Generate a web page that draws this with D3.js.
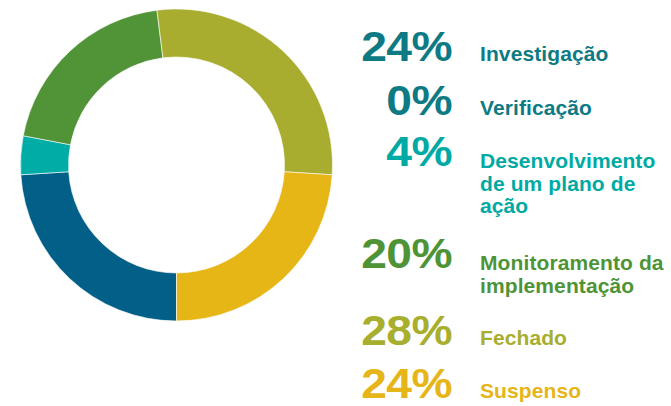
<!doctype html>
<html lang="pt">
<head>
<meta charset="utf-8">
<title>Status</title>
<script src="https://d3js.org/d3.v7.min.js"></script>
<style>
  body { margin: 0; background: #fff; }
  text { font-family: "Liberation Sans", Arial, sans-serif; font-weight: bold; }
</style>
</head>
<body>
<div id="main"></div>
<script>
 // data
 const categories = ['Investigação', 'Verificação', 'Desenvolvimento de um plano de ação',
                     'Monitoramento da implementação', 'Fechado', 'Suspenso']
 const values = [24, 0, 4, 20, 28, 24]
 const labelLines = [['Investigação'], ['Verificação'], ['Desenvolvimento', 'de um plano de', 'ação'],
                     ['Monitoramento da', 'implementação'], ['Fechado'], ['Suspenso']]
 const sliceColours = ['#025f87', '#0e7a84', '#00aca6', '#519437', '#a8ad2f', '#e6b516']
 const textColours  = ['#0e7a84', '#0e7a84', '#00aaa4', '#4e9437', '#a8ae2d', '#e6b518']

 const width = 671, height = 406
 const svg = d3.select('#main').append('svg')
               .attr('width', width).attr('height', height)

 const data = categories.map((c, i) => ({ name: c, value: values[i], i }))

 const pie = d3.pie().sort(null).value(d => d.value)
               .startAngle(Math.PI).endAngle(3 * Math.PI)
 const arc = d3.arc().innerRadius(108).outerRadius(156)

 const donut = svg.append('g').attr('transform', 'translate(176.5,165)')
 donut.selectAll('path')
      .data(pie(data).filter(d => d.data.value > 0))
      .enter().append('path')
      .attr('d', arc)
      .attr('fill', d => sliceColours[d.data.i])
      .attr('stroke', '#fff')
      .attr('stroke-width', 0.6)

 // legend rows, baselines
 const rowY = d3.scaleOrdinal().domain(categories).range([61, 115, 166, 268, 345, 398])

 const rows = svg.selectAll('g.row').data(data).enter()
                 .append('g').attr('class', 'row')
                 .attr('transform', d => `translate(0,${rowY(d.name)})`)

 // big percentages, stretched a bit wider like the original face
 rows.append('text')
     .attr('transform', 'translate(452,0) scale(1.1,1)')
     .attr('text-anchor', 'end')
     .style('font-size', '42px')
     .style('letter-spacing', '-0.5px')
     .attr('fill', d => textColours[d.i])
     .text(d => d.value + '%')

 rows.append('text')
     .attr('x', 480)
     .attr('y', d => labelLines[d.i].length > 1 ? 2 : 0)
     .style('font-size', '21px')
     .style('letter-spacing', '0.1px')
     .attr('fill', d => textColours[d.i])
     .selectAll('tspan')
     .data(d => labelLines[d.i])
     .enter().append('tspan')
     .attr('x', 480)
     .attr('dy', (d, j) => j === 0 ? 0 : 22.5)
     .text(d => d)
</script>
</body>
</html>
